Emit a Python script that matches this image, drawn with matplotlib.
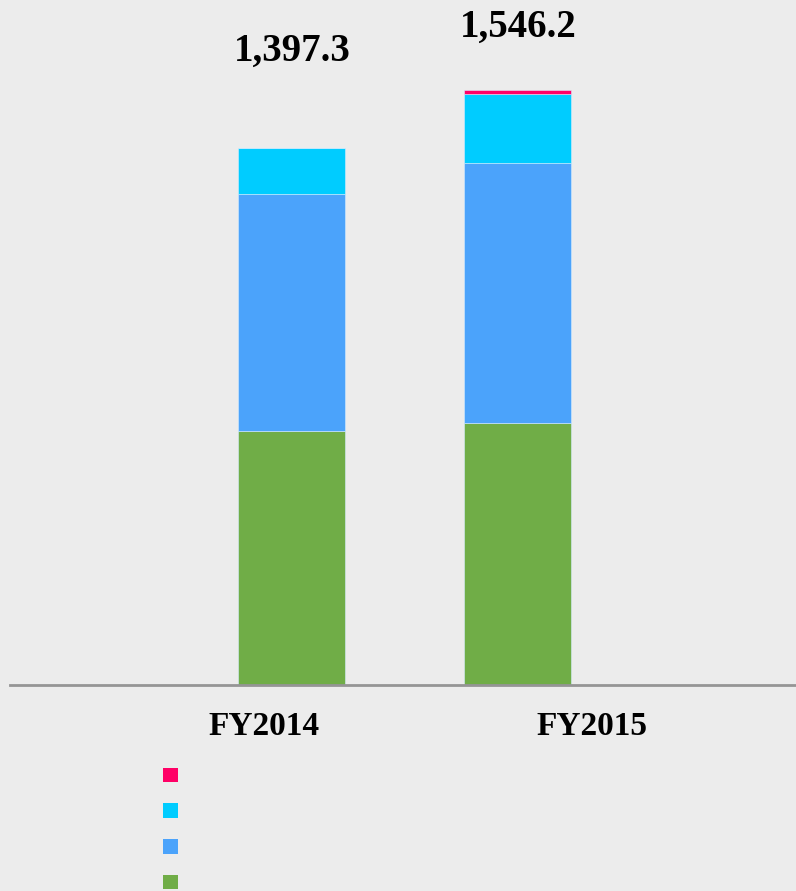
import matplotlib.pyplot as plt
from matplotlib.patches import Patch

years = ['FY2014', 'FY2015']
totals = [1397.3, 1546.2]

# stacked segments, bottom to top
seg_green = [659.1, 681.0]
seg_blue = [617.0, 676.3]
seg_cyan = [121.2, 180.5]
seg_magenta = [0.0, 8.4]

colors = {'green': '#70ad47', 'blue': '#4ba3fb', 'cyan': '#00ccff', 'magenta': '#ff0066'}
bg = '#ececec'

W, H = 796, 891
fig = plt.figure(figsize=(W / 100, H / 100), dpi=100, facecolor=bg)

base_px = 684.5
px_per_unit = 0.3842
ax = fig.add_axes([10 / W, (H - base_px) / H, 786 / W, base_px / H])
ax.set_facecolor(bg)

x = list(range(len(years)))
step = 226.4
width = 107.5 / step

bottom = [0.0] * len(years)
for vals, key in [(seg_green, 'green'), (seg_blue, 'blue'), (seg_cyan, 'cyan'), (seg_magenta, 'magenta')]:
    ax.bar(x, vals, width=width, bottom=bottom, color=colors[key],
           edgecolor='#d6ecff', linewidth=0.4)
    bottom = [b + v for b, v in zip(bottom, vals)]

ax.set_xlim(-(291.3 - 10) / step, 1 + (796 - 517.7) / step)
ax.set_ylim(0, base_px / px_per_unit)

# total labels above the bars
offsets_px = [96, 63]
for xi, t, off in zip(x, totals, offsets_px):
    ax.annotate(f'{t:,.1f}', (xi, t), xytext=(0.5, off * 0.72), textcoords='offset points',
                ha='center', va='center', fontsize=28, fontweight='bold',
                family='Liberation Serif', color='black')

for s in ['top', 'right', 'left']:
    ax.spines[s].set_visible(False)
ax.spines['bottom'].set_color('#959595')
ax.spines['bottom'].set_linewidth(2)
ax.set_yticks([])
# category labels sit off the bar centres in the original
ax.set_xticks([(264.2 - 291.3) / step, (592.3 - 291.3) / step])
ax.set_xticklabels(years, fontsize=24, fontweight='bold', family='Liberation Serif')
ax.tick_params(axis='x', length=0, pad=19)

handles = [Patch(facecolor=colors[k], edgecolor='none') for k in ['magenta', 'cyan', 'blue', 'green']]
fig.legend(handles, ['', '', '', ''], loc='upper left', bbox_to_anchor=(153 / W, 1 - 757 / H),
           frameon=False, fontsize=14, handlelength=0.78, handleheight=0.78,
           labelspacing=0.86, borderpad=0, handletextpad=0.3)

fig.savefig('out.png', dpi=100, facecolor=bg)
